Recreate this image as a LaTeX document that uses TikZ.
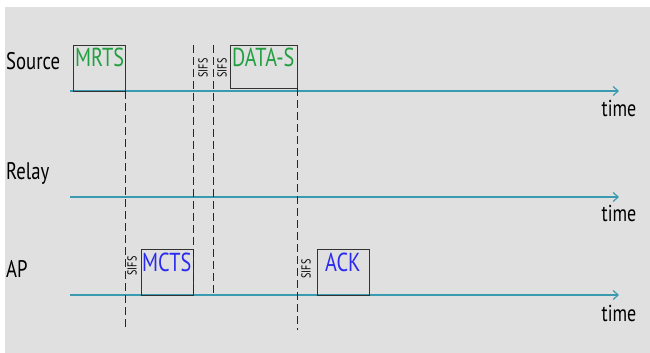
\documentclass[tikz,border=0pt]{standalone}
\usepackage{fontspec}
\setmainfont[FakeStretch=0.78]{PT Sans}
\usetikzlibrary{arrows.meta}
\definecolor{bg}{HTML}{E0E0E0}
\definecolor{axisc}{HTML}{3A9AB0}
\definecolor{greent}{HTML}{20A040}
\definecolor{bluet}{HTML}{2A2AF0}
\tikzset{
  axis/.style={draw=axisc, line width=1.2pt, -{Straight Barb[length=5pt,width=9pt]}},
  frame/.style={draw=black!80, line width=0.9pt, inner sep=0pt},
  dline/.style={draw=black!85, line width=0.8pt, dash pattern=on 8pt off 4pt},
  lbl/.style={font=\fontsize{24}{28}\selectfont, inner sep=0pt, anchor=west},
  boxtxt/.style={font=\fontsize{26}{30}\selectfont, inner sep=0pt, anchor=north west},
  sifs/.style={font=\fontsize{13}{14}\selectfont, inner sep=0pt, rotate=90},
  timel/.style={font=\fontsize{23}{26}\selectfont, inner sep=0pt}
}
\begin{document}
\begin{tikzpicture}[x=1pt,y=-1pt]
\useasboundingbox (0,0) rectangle (650,353);
\fill[bg] (5,7) rectangle (650,353);
% row labels
\node[lbl] (src) at (6,61) {Source};
\node[lbl] (rel) at (6,173) {Relay};
\node[lbl] (ap) at (6,269) {AP};
% axes
\coordinate (s0) at (70,91); \coordinate (s1) at (619,91);
\coordinate (r0) at (70,197); \coordinate (r1) at (619,197);
\coordinate (a0) at (70,295); \coordinate (a1) at (619,295);
\draw[axis] (s0) -- (s1);
\draw[axis] (r0) -- (r1);
\draw[axis] (a0) -- (a1);
\node[timel] (t1) at (619,108) {time};
\node[timel] (t2) at (619,213) {time};
\node[timel] (t3) at (619,313) {time};
% boxes
\node[frame, minimum width=52pt, minimum height=46pt, anchor=north west] (mrts) at (73,45) {};
\node[frame, minimum width=67pt, minimum height=43pt, anchor=north west] (data) at (230,45) {};
\node[frame, minimum width=52pt, minimum height=46pt, anchor=north west] (mcts) at (141,249) {};
\node[frame, minimum width=52pt, minimum height=46pt, anchor=north west] (ack) at (317,249) {};
\node[boxtxt, text=greent] (mrtst) at (75,48) {MRTS};
\node[boxtxt, text=greent] (datat) at (232,48) {DATA-S};
\node[boxtxt, text=bluet] (mctst) at (142,253) {MCTS};
\node[boxtxt, text=bluet] (ackt) at (325,253) {ACK};
% dashed lines
\coordinate (d1a) at (125,91); \coordinate (d1b) at (125,330);
\coordinate (d2a) at (193,45); \coordinate (d2b) at (193,296);
\coordinate (d3a) at (213,45); \coordinate (d3b) at (213,296);
\coordinate (d4a) at (297,88); \coordinate (d4b) at (297,330);
\draw[dline] (d1a) -- (d1b);
\draw[dline] (d2a) -- (d2b);
\draw[dline] (d3a) -- (d3b);
\draw[dline] (d4a) -- (d4b);
% SIFS labels
\node[sifs] (sf1) at (203,68) {SIFS};
\node[sifs] (sf2) at (222,68) {SIFS};
\node[sifs] (sf3) at (132,266) {SIFS};
\node[sifs] (sf4) at (306,269) {SIFS};
\end{tikzpicture}
\end{document}
